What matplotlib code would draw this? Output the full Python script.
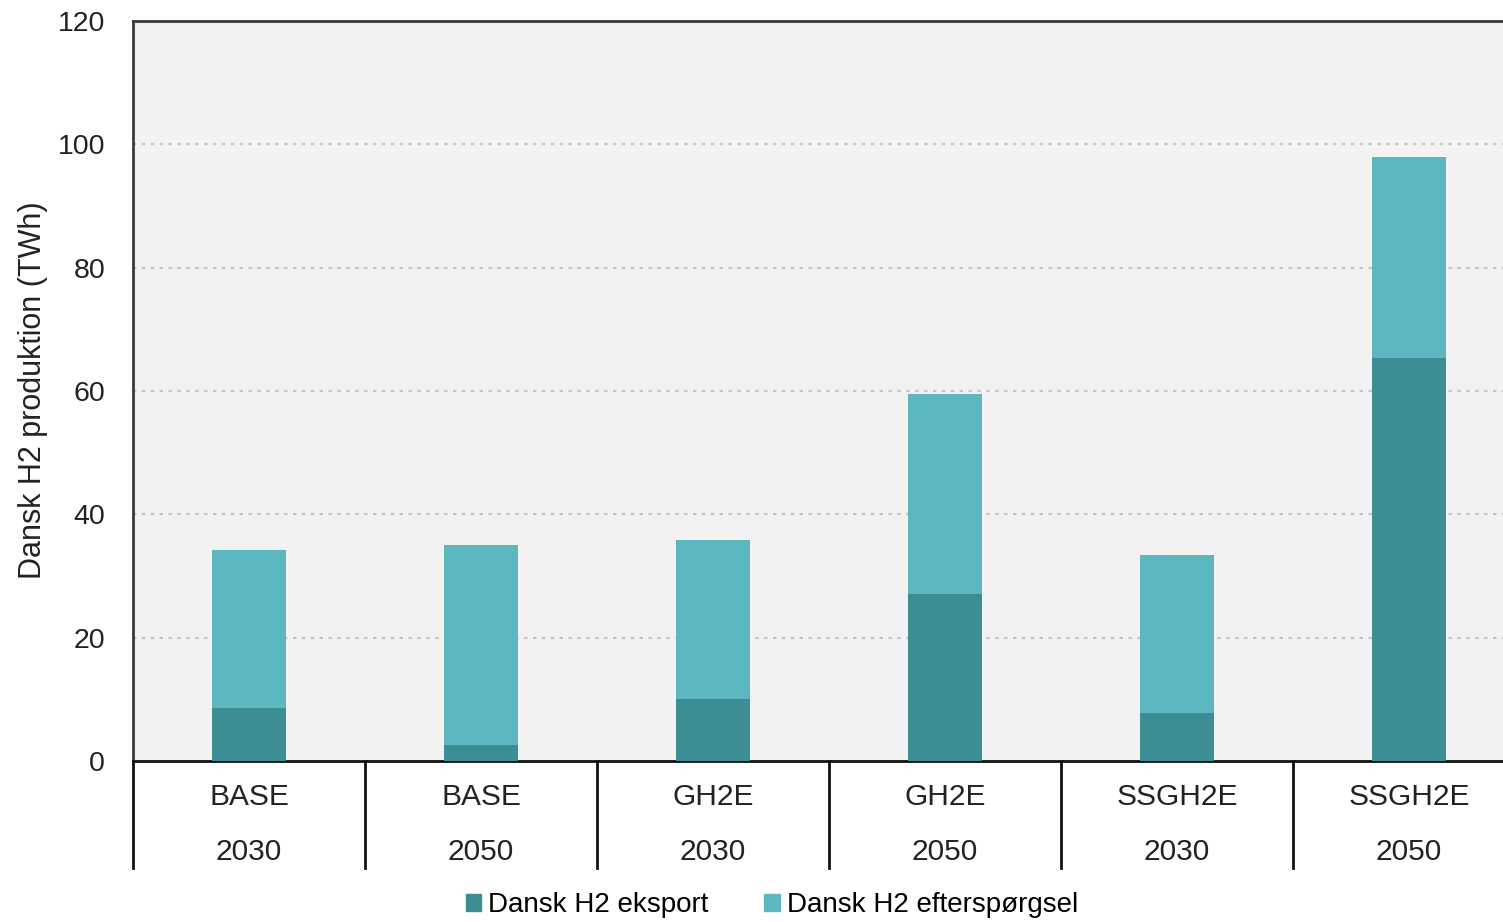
import matplotlib
matplotlib.use("Agg")
import matplotlib.pyplot as plt
from matplotlib.patches import Patch
import numpy as np

plt.rcParams['font.family'] = ['Liberation Sans', 'DejaVu Sans']

scenarios = ["BASE", "BASE", "GH2E", "GH2E", "SSGH2E", "SSGH2E"]
years = ["2030", "2050", "2030", "2050", "2030", "2050"]
eksport = [8.6, 2.6, 10.1, 27.1, 7.8, 65.3]
total = [34.2, 35.0, 35.8, 59.5, 33.4, 97.9]
efterspoergsel = [t - e for t, e in zip(total, eksport)]
series_names = ["Dansk H2 eksport", "Dansk H2 efterspørgsel"]
yticks = [0, 20, 40, 60, 80, 100, 120]

c_eks = "#3a8e94"
c_eft = "#5cb7c0"
txt = "#222222"

W, H = 1503, 922
fig = plt.figure(figsize=(W / 100, H / 100), dpi=100)
ax_left, ax_right, ax_top, ax_bot = 133, 1525, 21, 761
ax = fig.add_axes([ax_left / W, 1 - ax_bot / H, (ax_right - ax_left) / W, (ax_bot - ax_top) / H])
ax.set_facecolor("#f2f2f2")

x = np.arange(len(scenarios))
w = 0.315
ax.bar(x, eksport, w, color=c_eks, zorder=3)
ax.bar(x, efterspoergsel, w, bottom=eksport, color=c_eft, zorder=3)

ax.set_xlim(-0.5, len(scenarios) - 0.5)
ax.set_ylim(0, 120)
ax.set_yticks(yticks)
ax.set_yticklabels([str(v) for v in yticks], fontsize=20.5, color=txt)
ax.tick_params(axis="y", length=0, pad=20)
ax.set_xticks([])
for v in yticks[1:-1]:
    ax.axhline(v, color="#c4c4c4", linestyle=(0, (1.5, 2.5)), linewidth=1.6, zorder=1)

for s in ["top", "left"]:
    ax.spines[s].set_color("#3a3a3a")
    ax.spines[s].set_linewidth(2.0)
ax.spines["right"].set_visible(False)
ax.spines["bottom"].set_color("#111111")
ax.spines["bottom"].set_linewidth(2.0)

fig.text(33 / W, 1 - 390 / H, "Dansk H2 produktion (TWh)", rotation=90,
         ha="center", va="center", fontsize=22, color=txt)

trans = ax.get_xaxis_transform()
ax_h_px = ax_bot - ax_top
def yax(py):
    return (ax_bot - py) / ax_h_px

for i, (s, yr) in enumerate(zip(scenarios, years)):
    ax.text(i, yax(797), s, transform=trans, ha="center", va="center", fontsize=21.5, color=txt)
    ax.text(i, yax(852), yr, transform=trans, ha="center", va="center", fontsize=21.5, color=txt)
for b in np.arange(-0.5, len(scenarios) - 0.5 + 0.01, 1.0):
    ax.plot([b, b], [0, yax(868)], transform=trans, color="#111111", linewidth=2.0, clip_on=False)

handles = [Patch(color=c_eks), Patch(color=c_eft)]
fig.legend(handles, series_names, loc="center", bbox_to_anchor=(772 / W, 1 - 905 / H),
           ncol=2, frameon=False, fontsize=20, handlelength=0.55, handleheight=0.55,
           handletextpad=0.25, columnspacing=2.0)

fig.savefig("out.png", dpi=100)
